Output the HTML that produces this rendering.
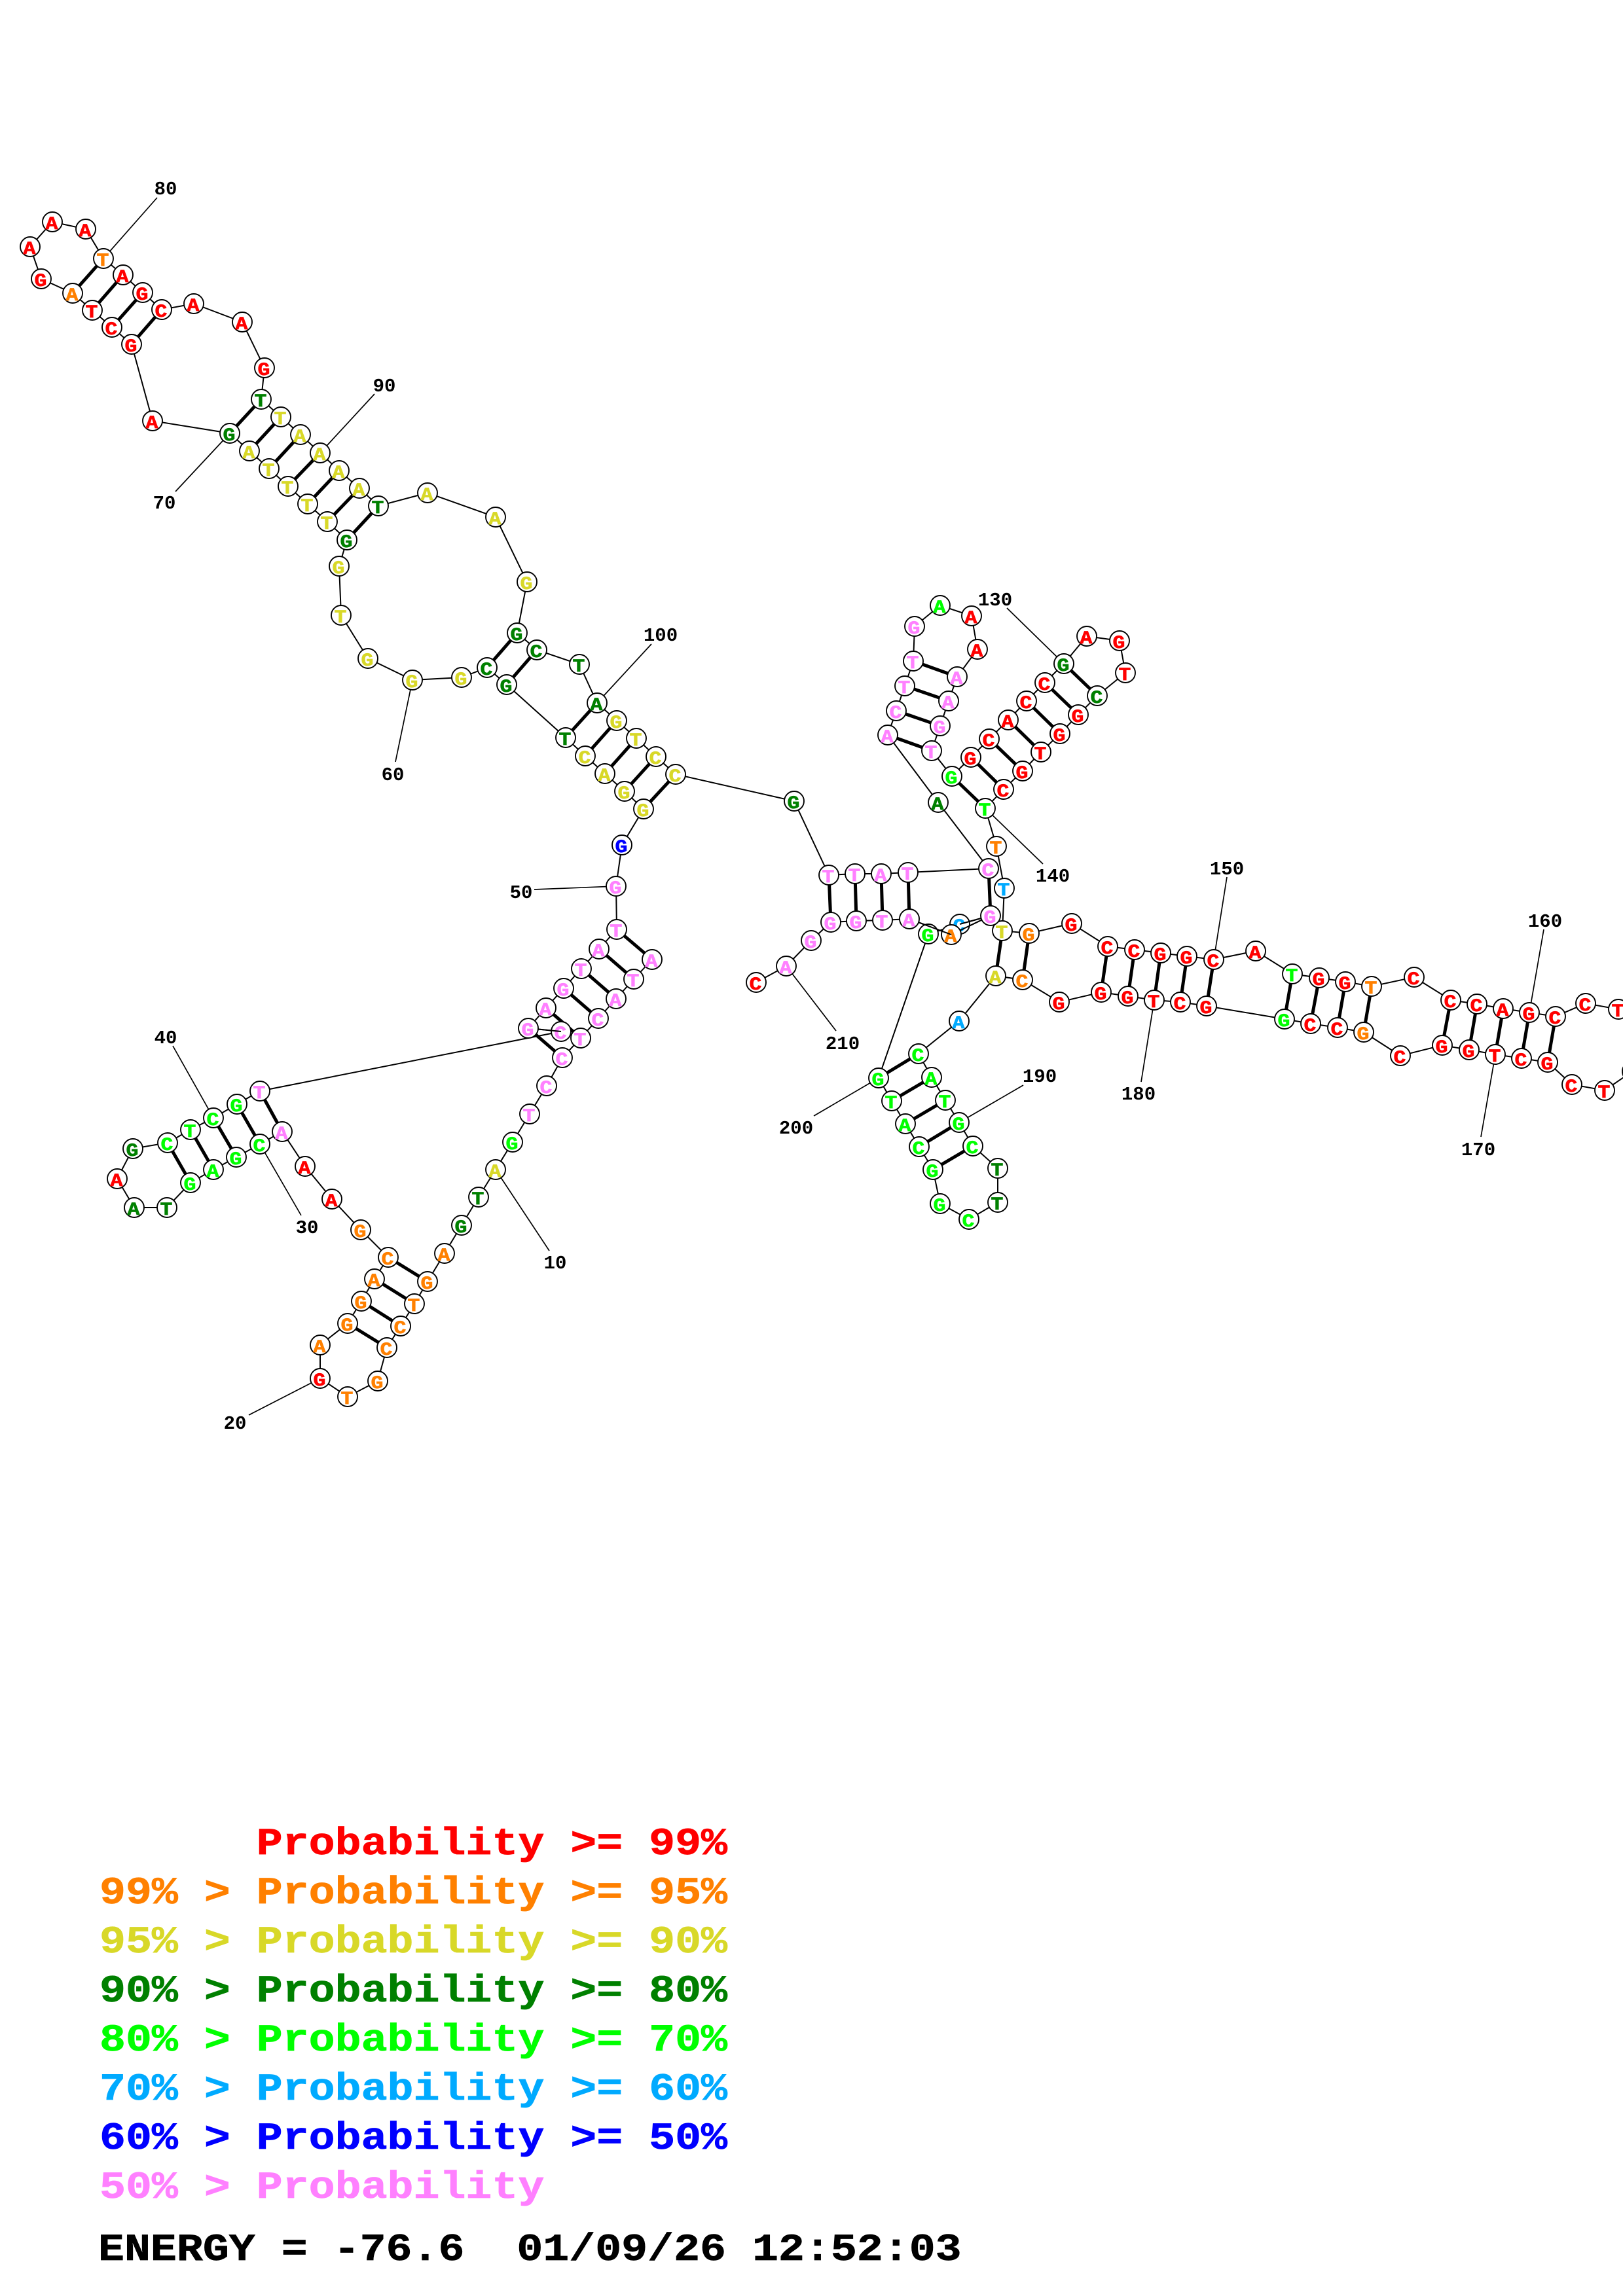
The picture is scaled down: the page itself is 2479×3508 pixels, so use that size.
<!DOCTYPE html>
<html><head><meta charset="utf-8"><style>
html,body{margin:0;padding:0;background:#fff}
svg{display:block}
circle{r:15px;fill:#fff;stroke:#000;stroke-width:1.9}
.bb{fill:none;stroke:#000;stroke-width:2}
.bd{fill:none;stroke:#000;stroke-width:5}
.ld{fill:none;stroke:#000;stroke-width:1.7}
text{font-family:"Liberation Mono",monospace;font-weight:bold;white-space:pre}
.n{font-size:29px;text-anchor:middle;fill:#000;font-weight:bold;transform:translateY(10px)}
.r{fill:#f00;stroke:#f00}.o{fill:#ff8000;stroke:#ff8000}.y{fill:#d8d828;stroke:#d8d828}.d{fill:#008000;stroke:#008000}.l{fill:#0f0;stroke:#0f0}.s{fill:#00aaff;stroke:#00aaff}.b{fill:#00f;stroke:#00f}.p{fill:#ff80ff;stroke:#ff80ff}
text.r:not(.L),text.o:not(.L),text.y:not(.L),text.d:not(.L),text.l:not(.L),text.s:not(.L),text.b:not(.L),text.p:not(.L){font-size:30px;text-anchor:middle;stroke-width:.7;transform-box:fill-box;transform-origin:center;transform:translate(-1px,11.5px) scale(1.05,.92)}
.L{font-size:66.6px}
text.L{stroke-width:.8}
</style></head><body>
<svg xmlns="http://www.w3.org/2000/svg" width="2479" height="3508" viewBox="0 0 2479 3508">
<rect width="2479" height="3508" fill="#fff"/>
<path class="bd" d="M351 662L399 610M381 689L429 637M411 716L459 664M440 743L489 692M470 770L518 719M500 797L549 746M530 825L578 773M111 448L158 395M141 474L188 420M171 500L218 447M201 526L247 473M744 1020L790 967M774 1046L820 993M864 1127L912 1074M894 1155L942 1101M924 1182L972 1128M954 1209L1002 1156M983 1236L1032 1183M1266 1337L1269 1409M1306 1335L1308 1407M1346 1335L1348 1406M1387 1333L1389 1404M1510 1327L1513 1399M1395 1010L1462 1034M1382 1048L1449 1071M1369 1086L1436 1109M1356 1123L1423 1147M1454 1186L1505 1235M1483 1157L1533 1206M1511 1129L1562 1178M1540 1100L1590 1149M1568 1071L1619 1121M1596 1043L1647 1092M1625 1014L1676 1063M1531 1422L1521 1491M1572 1426L1562 1497M1692 1446L1682 1516M1733 1451L1723 1522M1773 1456L1763 1528M1813 1461L1803 1531M1854 1466L1843 1537M1974 1488L1962 1557M2015 1494L2002 1564M2055 1500L2043 1570M2095 1507L2083 1577M2216 1528L2203 1597M2256 1534L2244 1604M2296 1541L2284 1611M2336 1547L2324 1617M2376 1553L2364 1623M1403 1610L1342 1647M1423 1646L1362 1682M1444 1681L1383 1717M1465 1715L1404 1752M1486 1751L1425 1787M942 1420L996 1466M915 1450L968 1496M888 1480L941 1526M861 1510L914 1556M834 1540L887 1586M807 1571L859 1616M397 1667L431 1729M362 1687L397 1748M326 1708L361 1768M291 1726L326 1787M256 1746L291 1807M653 1958L593 1921M633 1992L572 1954M612 2026L552 1988M591 2059L531 2022"/>
<path class="ld" d="M158 395L240 302M489 692L572 602M351 662L268 751M630 1039L604 1164M912 1074L995 984M941 1354L816 1359M1625 1014L1538 929M1505 1235L1593 1320M1854 1466L1874 1340M2336 1547L2358 1420M2284 1611L2262 1737M1763 1528L1743 1653M1465 1715L1563 1658M1342 1647L1243 1705M1201 1476L1277 1575M757 1787L839 1911M489 2106L380 2162M397 1748L460 1857M326 1708L264 1598"/>
<path class="bb" d="M996 1466L968 1496L941 1526L914 1556L887 1586L859 1616L835 1659L809 1702L783 1745L757 1787L731 1829L705 1872L679 1915L653 1958L633 1992L612 2026L591 2059L577 2110L531 2134L489 2106L489 2055L531 2022L552 1988L572 1954L593 1921L551 1879L507 1832L466 1782L431 1729L397 1748L361 1768L326 1787L291 1807L255 1845L205 1845L179 1801L203 1755L256 1746L291 1726L326 1708L362 1687L397 1667L857 1576L807 1571L834 1540L861 1510L888 1480L915 1450L942 1420L941 1354L950 1291L983 1236L954 1209L924 1182L894 1155L864 1127L774 1046L744 1020L705 1035L630 1039L562 1006L521 940L518 865L530 825L500 797L470 770L440 743L411 716L381 689L351 662L233 643L201 526L171 500L141 474L111 448L63 426L46 377L80 339L131 350L158 395L188 420L218 447L247 473L296 464L370 492L404 562L399 610L429 637L459 664L489 692L518 719L549 746L578 773L653 753L757 790L805 889L790 967L820 993L885 1015L912 1074L942 1101L972 1128L1002 1156L1032 1183L1213 1224L1266 1337L1306 1335L1346 1335L1387 1333L1510 1327L1433 1226L1356 1123L1369 1086L1382 1048L1395 1010L1397 957L1436 925L1484 941L1493 992L1462 1034L1449 1071L1436 1109L1423 1147L1454 1186L1483 1157L1511 1129L1540 1100L1568 1071L1596 1043L1625 1014L1660 972L1710 979L1719 1028L1676 1063L1647 1092L1619 1121L1590 1149L1562 1178L1533 1206L1505 1235L1522 1293L1534 1357L1531 1422L1572 1426L1637 1411L1692 1446L1733 1451L1773 1456L1813 1461L1854 1466L1918 1453L1974 1488L2015 1494L2055 1500L2095 1507L2160 1493L2216 1528L2256 1534L2296 1541L2336 1547L2376 1553L2422 1533L2472 1542L2510 1585L2493 1637L2451 1666L2401 1657L2364 1623L2324 1617L2284 1611L2244 1604L2203 1597L2139 1613L2083 1577L2043 1570L2002 1564L1962 1557L1843 1537L1803 1531L1763 1528L1723 1522L1682 1516L1618 1531L1562 1497L1521 1491L1465 1560L1403 1610L1423 1646L1444 1681L1465 1715L1486 1751L1524 1785L1524 1837L1480 1863L1436 1839L1425 1787L1404 1752L1383 1717L1362 1682L1342 1647L1418 1427L1466 1412L1513 1399L1453 1428L1389 1404L1348 1406L1308 1407L1269 1409L1239 1437L1201 1476L1155 1501"/>
<circle cx="996" cy="1466"/><text x="996" y="1466" class="p">A</text>
<circle cx="968" cy="1496"/><text x="968" y="1496" class="p">T</text>
<circle cx="941" cy="1526"/><text x="941" y="1526" class="p">A</text>
<circle cx="914" cy="1556"/><text x="914" y="1556" class="p">C</text>
<circle cx="887" cy="1586"/><text x="887" y="1586" class="p">T</text>
<circle cx="859" cy="1616"/><text x="859" y="1616" class="p">C</text>
<circle cx="835" cy="1659"/><text x="835" y="1659" class="p">C</text>
<circle cx="809" cy="1702"/><text x="809" y="1702" class="p">T</text>
<circle cx="783" cy="1745"/><text x="783" y="1745" class="l">G</text>
<circle cx="757" cy="1787"/><text x="757" y="1787" class="y">A</text>
<circle cx="731" cy="1829"/><text x="731" y="1829" class="d">T</text>
<circle cx="705" cy="1872"/><text x="705" y="1872" class="d">G</text>
<circle cx="679" cy="1915"/><text x="679" y="1915" class="o">A</text>
<circle cx="653" cy="1958"/><text x="653" y="1958" class="o">G</text>
<circle cx="633" cy="1992"/><text x="633" y="1992" class="o">T</text>
<circle cx="612" cy="2026"/><text x="612" y="2026" class="o">C</text>
<circle cx="591" cy="2059"/><text x="591" y="2059" class="o">C</text>
<circle cx="577" cy="2110"/><text x="577" y="2110" class="o">G</text>
<circle cx="531" cy="2134"/><text x="531" y="2134" class="o">T</text>
<circle cx="489" cy="2106"/><text x="489" y="2106" class="r">G</text>
<circle cx="489" cy="2055"/><text x="489" y="2055" class="o">A</text>
<circle cx="531" cy="2022"/><text x="531" y="2022" class="o">G</text>
<circle cx="552" cy="1988"/><text x="552" y="1988" class="o">G</text>
<circle cx="572" cy="1954"/><text x="572" y="1954" class="o">A</text>
<circle cx="593" cy="1921"/><text x="593" y="1921" class="o">C</text>
<circle cx="551" cy="1879"/><text x="551" y="1879" class="o">G</text>
<circle cx="507" cy="1832"/><text x="507" y="1832" class="r">A</text>
<circle cx="466" cy="1782"/><text x="466" y="1782" class="r">A</text>
<circle cx="431" cy="1729"/><text x="431" y="1729" class="p">A</text>
<circle cx="397" cy="1748"/><text x="397" y="1748" class="l">C</text>
<circle cx="361" cy="1768"/><text x="361" y="1768" class="l">G</text>
<circle cx="326" cy="1787"/><text x="326" y="1787" class="l">A</text>
<circle cx="291" cy="1807"/><text x="291" y="1807" class="l">G</text>
<circle cx="255" cy="1845"/><text x="255" y="1845" class="d">T</text>
<circle cx="205" cy="1845"/><text x="205" y="1845" class="d">A</text>
<circle cx="179" cy="1801"/><text x="179" y="1801" class="r">A</text>
<circle cx="203" cy="1755"/><text x="203" y="1755" class="d">G</text>
<circle cx="256" cy="1746"/><text x="256" y="1746" class="l">C</text>
<circle cx="291" cy="1726"/><text x="291" y="1726" class="l">T</text>
<circle cx="326" cy="1708"/><text x="326" y="1708" class="l">C</text>
<circle cx="362" cy="1687"/><text x="362" y="1687" class="l">G</text>
<circle cx="397" cy="1667"/><text x="397" y="1667" class="p">T</text>
<circle cx="857" cy="1576"/><text x="857" y="1576" class="p">C</text>
<path class="bb" d="M857 1576L807 1571"/>
<circle cx="807" cy="1571"/><text x="807" y="1571" class="p">G</text>
<circle cx="834" cy="1540"/><text x="834" y="1540" class="p">A</text>
<circle cx="861" cy="1510"/><text x="861" y="1510" class="p">G</text>
<circle cx="888" cy="1480"/><text x="888" y="1480" class="p">T</text>
<circle cx="915" cy="1450"/><text x="915" y="1450" class="p">A</text>
<circle cx="942" cy="1420"/><text x="942" y="1420" class="p">T</text>
<circle cx="941" cy="1354"/><text x="941" y="1354" class="p">G</text>
<circle cx="950" cy="1291"/><text x="950" y="1291" class="b">G</text>
<circle cx="983" cy="1236"/><text x="983" y="1236" class="y">G</text>
<circle cx="954" cy="1209"/><text x="954" y="1209" class="y">G</text>
<circle cx="924" cy="1182"/><text x="924" y="1182" class="y">A</text>
<circle cx="894" cy="1155"/><text x="894" y="1155" class="y">C</text>
<circle cx="864" cy="1127"/><text x="864" y="1127" class="d">T</text>
<circle cx="774" cy="1046"/><text x="774" y="1046" class="d">G</text>
<circle cx="744" cy="1020"/><text x="744" y="1020" class="d">C</text>
<circle cx="705" cy="1035"/><text x="705" y="1035" class="y">G</text>
<circle cx="630" cy="1039"/><text x="630" y="1039" class="y">G</text>
<circle cx="562" cy="1006"/><text x="562" y="1006" class="y">G</text>
<circle cx="521" cy="940"/><text x="521" y="940" class="y">T</text>
<circle cx="518" cy="865"/><text x="518" y="865" class="y">G</text>
<circle cx="530" cy="825"/><text x="530" y="825" class="d">G</text>
<circle cx="500" cy="797"/><text x="500" y="797" class="y">T</text>
<circle cx="470" cy="770"/><text x="470" y="770" class="y">T</text>
<circle cx="440" cy="743"/><text x="440" y="743" class="y">T</text>
<circle cx="411" cy="716"/><text x="411" y="716" class="y">T</text>
<circle cx="381" cy="689"/><text x="381" y="689" class="y">A</text>
<circle cx="351" cy="662"/><text x="351" y="662" class="d">G</text>
<circle cx="233" cy="643"/><text x="233" y="643" class="r">A</text>
<circle cx="201" cy="526"/><text x="201" y="526" class="r">G</text>
<circle cx="171" cy="500"/><text x="171" y="500" class="r">C</text>
<circle cx="141" cy="474"/><text x="141" y="474" class="r">T</text>
<circle cx="111" cy="448"/><text x="111" y="448" class="o">A</text>
<circle cx="63" cy="426"/><text x="63" y="426" class="r">G</text>
<circle cx="46" cy="377"/><text x="46" y="377" class="r">A</text>
<circle cx="80" cy="339"/><text x="80" y="339" class="r">A</text>
<circle cx="131" cy="350"/><text x="131" y="350" class="r">A</text>
<circle cx="158" cy="395"/><text x="158" y="395" class="o">T</text>
<circle cx="188" cy="420"/><text x="188" y="420" class="r">A</text>
<circle cx="218" cy="447"/><text x="218" y="447" class="r">G</text>
<circle cx="247" cy="473"/><text x="247" y="473" class="r">C</text>
<circle cx="296" cy="464"/><text x="296" y="464" class="r">A</text>
<circle cx="370" cy="492"/><text x="370" y="492" class="r">A</text>
<circle cx="404" cy="562"/><text x="404" y="562" class="r">G</text>
<circle cx="399" cy="610"/><text x="399" y="610" class="d">T</text>
<circle cx="429" cy="637"/><text x="429" y="637" class="y">T</text>
<circle cx="459" cy="664"/><text x="459" y="664" class="y">A</text>
<circle cx="489" cy="692"/><text x="489" y="692" class="y">A</text>
<circle cx="518" cy="719"/><text x="518" y="719" class="y">A</text>
<circle cx="549" cy="746"/><text x="549" y="746" class="y">A</text>
<circle cx="578" cy="773"/><text x="578" y="773" class="d">T</text>
<circle cx="653" cy="753"/><text x="653" y="753" class="y">A</text>
<circle cx="757" cy="790"/><text x="757" y="790" class="y">A</text>
<circle cx="805" cy="889"/><text x="805" y="889" class="y">G</text>
<circle cx="790" cy="967"/><text x="790" y="967" class="d">G</text>
<circle cx="820" cy="993"/><text x="820" y="993" class="d">C</text>
<circle cx="885" cy="1015"/><text x="885" y="1015" class="d">T</text>
<circle cx="912" cy="1074"/><text x="912" y="1074" class="d">A</text>
<circle cx="942" cy="1101"/><text x="942" y="1101" class="y">G</text>
<circle cx="972" cy="1128"/><text x="972" y="1128" class="y">T</text>
<circle cx="1002" cy="1156"/><text x="1002" y="1156" class="y">C</text>
<circle cx="1032" cy="1183"/><text x="1032" y="1183" class="y">C</text>
<circle cx="1213" cy="1224"/><text x="1213" y="1224" class="d">G</text>
<circle cx="1266" cy="1337"/><text x="1266" y="1337" class="p">T</text>
<circle cx="1306" cy="1335"/><text x="1306" y="1335" class="p">T</text>
<circle cx="1346" cy="1335"/><text x="1346" y="1335" class="p">A</text>
<circle cx="1387" cy="1333"/><text x="1387" y="1333" class="p">T</text>
<circle cx="1510" cy="1327"/><text x="1510" y="1327" class="p">C</text>
<circle cx="1433" cy="1226"/><text x="1433" y="1226" class="d">A</text>
<circle cx="1356" cy="1123"/><text x="1356" y="1123" class="p">A</text>
<circle cx="1369" cy="1086"/><text x="1369" y="1086" class="p">C</text>
<circle cx="1382" cy="1048"/><text x="1382" y="1048" class="p">T</text>
<circle cx="1395" cy="1010"/><text x="1395" y="1010" class="p">T</text>
<circle cx="1397" cy="957"/><text x="1397" y="957" class="p">G</text>
<circle cx="1436" cy="925"/><text x="1436" y="925" class="l">A</text>
<circle cx="1484" cy="941"/><text x="1484" y="941" class="r">A</text>
<circle cx="1493" cy="992"/><text x="1493" y="992" class="r">A</text>
<circle cx="1462" cy="1034"/><text x="1462" y="1034" class="p">A</text>
<circle cx="1449" cy="1071"/><text x="1449" y="1071" class="p">A</text>
<circle cx="1436" cy="1109"/><text x="1436" y="1109" class="p">G</text>
<circle cx="1423" cy="1147"/><text x="1423" y="1147" class="p">T</text>
<circle cx="1454" cy="1186"/><text x="1454" y="1186" class="l">G</text>
<circle cx="1483" cy="1157"/><text x="1483" y="1157" class="r">G</text>
<circle cx="1511" cy="1129"/><text x="1511" y="1129" class="r">C</text>
<circle cx="1540" cy="1100"/><text x="1540" y="1100" class="r">A</text>
<circle cx="1568" cy="1071"/><text x="1568" y="1071" class="r">C</text>
<circle cx="1596" cy="1043"/><text x="1596" y="1043" class="r">C</text>
<circle cx="1625" cy="1014"/><text x="1625" y="1014" class="d">G</text>
<circle cx="1660" cy="972"/><text x="1660" y="972" class="r">A</text>
<circle cx="1710" cy="979"/><text x="1710" y="979" class="r">G</text>
<circle cx="1719" cy="1028"/><text x="1719" y="1028" class="r">T</text>
<circle cx="1676" cy="1063"/><text x="1676" y="1063" class="d">C</text>
<circle cx="1647" cy="1092"/><text x="1647" y="1092" class="r">G</text>
<circle cx="1619" cy="1121"/><text x="1619" y="1121" class="r">G</text>
<circle cx="1590" cy="1149"/><text x="1590" y="1149" class="r">T</text>
<circle cx="1562" cy="1178"/><text x="1562" y="1178" class="r">G</text>
<circle cx="1533" cy="1206"/><text x="1533" y="1206" class="r">C</text>
<circle cx="1505" cy="1235"/><text x="1505" y="1235" class="l">T</text>
<circle cx="1522" cy="1293"/><text x="1522" y="1293" class="o">T</text>
<circle cx="1534" cy="1357"/><text x="1534" y="1357" class="s">T</text>
<circle cx="1531" cy="1422"/><text x="1531" y="1422" class="y">T</text>
<circle cx="1572" cy="1426"/><text x="1572" y="1426" class="o">G</text>
<circle cx="1637" cy="1411"/><text x="1637" y="1411" class="r">G</text>
<circle cx="1692" cy="1446"/><text x="1692" y="1446" class="r">C</text>
<circle cx="1733" cy="1451"/><text x="1733" y="1451" class="r">C</text>
<circle cx="1773" cy="1456"/><text x="1773" y="1456" class="r">G</text>
<circle cx="1813" cy="1461"/><text x="1813" y="1461" class="r">G</text>
<circle cx="1854" cy="1466"/><text x="1854" y="1466" class="r">C</text>
<circle cx="1918" cy="1453"/><text x="1918" y="1453" class="r">A</text>
<circle cx="1974" cy="1488"/><text x="1974" y="1488" class="l">T</text>
<circle cx="2015" cy="1494"/><text x="2015" y="1494" class="r">G</text>
<circle cx="2055" cy="1500"/><text x="2055" y="1500" class="r">G</text>
<circle cx="2095" cy="1507"/><text x="2095" y="1507" class="o">T</text>
<circle cx="2160" cy="1493"/><text x="2160" y="1493" class="r">C</text>
<circle cx="2216" cy="1528"/><text x="2216" y="1528" class="r">C</text>
<circle cx="2256" cy="1534"/><text x="2256" y="1534" class="r">C</text>
<circle cx="2296" cy="1541"/><text x="2296" y="1541" class="r">A</text>
<circle cx="2336" cy="1547"/><text x="2336" y="1547" class="r">G</text>
<circle cx="2376" cy="1553"/><text x="2376" y="1553" class="r">C</text>
<circle cx="2422" cy="1533"/><text x="2422" y="1533" class="r">C</text>
<circle cx="2472" cy="1542"/><text x="2472" y="1542" class="r">T</text>
<circle cx="2510" cy="1585"/>
<circle cx="2493" cy="1637"/>
<circle cx="2451" cy="1666"/><text x="2451" y="1666" class="r">T</text>
<circle cx="2401" cy="1657"/><text x="2401" y="1657" class="r">C</text>
<circle cx="2364" cy="1623"/><text x="2364" y="1623" class="r">G</text>
<circle cx="2324" cy="1617"/><text x="2324" y="1617" class="r">C</text>
<circle cx="2284" cy="1611"/><text x="2284" y="1611" class="r">T</text>
<circle cx="2244" cy="1604"/><text x="2244" y="1604" class="r">G</text>
<circle cx="2203" cy="1597"/><text x="2203" y="1597" class="r">G</text>
<circle cx="2139" cy="1613"/><text x="2139" y="1613" class="r">C</text>
<circle cx="2083" cy="1577"/><text x="2083" y="1577" class="o">G</text>
<circle cx="2043" cy="1570"/><text x="2043" y="1570" class="r">C</text>
<circle cx="2002" cy="1564"/><text x="2002" y="1564" class="r">C</text>
<circle cx="1962" cy="1557"/><text x="1962" y="1557" class="l">G</text>
<circle cx="1843" cy="1537"/><text x="1843" y="1537" class="r">G</text>
<circle cx="1803" cy="1531"/><text x="1803" y="1531" class="r">C</text>
<circle cx="1763" cy="1528"/><text x="1763" y="1528" class="r">T</text>
<circle cx="1723" cy="1522"/><text x="1723" y="1522" class="r">G</text>
<circle cx="1682" cy="1516"/><text x="1682" y="1516" class="r">G</text>
<circle cx="1618" cy="1531"/><text x="1618" y="1531" class="r">G</text>
<circle cx="1562" cy="1497"/><text x="1562" y="1497" class="o">C</text>
<circle cx="1521" cy="1491"/><text x="1521" y="1491" class="y">A</text>
<circle cx="1465" cy="1560"/><text x="1465" y="1560" class="s">A</text>
<circle cx="1403" cy="1610"/><text x="1403" y="1610" class="l">C</text>
<circle cx="1423" cy="1646"/><text x="1423" y="1646" class="l">A</text>
<circle cx="1444" cy="1681"/><text x="1444" y="1681" class="l">T</text>
<circle cx="1465" cy="1715"/><text x="1465" y="1715" class="l">G</text>
<circle cx="1486" cy="1751"/><text x="1486" y="1751" class="l">C</text>
<circle cx="1524" cy="1785"/><text x="1524" y="1785" class="d">T</text>
<circle cx="1524" cy="1837"/><text x="1524" y="1837" class="d">T</text>
<circle cx="1480" cy="1863"/><text x="1480" y="1863" class="l">C</text>
<circle cx="1436" cy="1839"/><text x="1436" y="1839" class="l">G</text>
<circle cx="1425" cy="1787"/><text x="1425" y="1787" class="l">G</text>
<circle cx="1404" cy="1752"/><text x="1404" y="1752" class="l">C</text>
<circle cx="1383" cy="1717"/><text x="1383" y="1717" class="l">A</text>
<circle cx="1362" cy="1682"/><text x="1362" y="1682" class="l">T</text>
<circle cx="1342" cy="1647"/><text x="1342" y="1647" class="l">G</text>
<circle cx="1418" cy="1427"/><text x="1418" y="1427" class="l">G</text>
<circle cx="1466" cy="1412"/><text x="1466" y="1412" class="s">C</text>
<path class="bb" d="M1466 1412L1513 1399L1453 1428"/>
<circle cx="1513" cy="1399"/><text x="1513" y="1399" class="p">G</text>
<circle cx="1453" cy="1428"/><text x="1453" y="1428" class="o">A</text>
<path class="bb" d="M1453 1428L1389 1404"/>
<circle cx="1389" cy="1404"/><text x="1389" y="1404" class="p">A</text>
<circle cx="1348" cy="1406"/><text x="1348" y="1406" class="p">T</text>
<circle cx="1308" cy="1407"/><text x="1308" y="1407" class="p">G</text>
<circle cx="1269" cy="1409"/><text x="1269" y="1409" class="p">G</text>
<circle cx="1239" cy="1437"/><text x="1239" y="1437" class="p">G</text>
<circle cx="1201" cy="1476"/><text x="1201" y="1476" class="p">A</text>
<circle cx="1155" cy="1501"/><text x="1155" y="1501" class="r">C</text>
<text class="n" x="253" y="287">80</text>
<text class="n" x="587" y="588">90</text>
<text class="n" x="251" y="767">70</text>
<text class="n" x="1009" y="969">100</text>
<text class="n" x="600" y="1182">60</text>
<text class="n" x="796" y="1362">50</text>
<text class="n" x="1520" y="915">130</text>
<text class="n" x="1608" y="1337">140</text>
<text class="n" x="1874" y="1326">150</text>
<text class="n" x="2360" y="1406">160</text>
<text class="n" x="2258" y="1755">170</text>
<text class="n" x="1739" y="1670">180</text>
<text class="n" x="1588" y="1643">190</text>
<text class="n" x="1216" y="1722">200</text>
<text class="n" x="1287" y="1593">210</text>
<text class="n" x="848" y="1928">10</text>
<text class="n" x="359" y="2173">20</text>
<text class="n" x="469" y="1874">30</text>
<text class="n" x="253" y="1584">40</text>
<text class="L r" transform="matrix(1 0 0 .88 152 2833)">      Probability &gt;= 99%</text>
<text class="L o" transform="matrix(1 0 0 .88 152 2908)">99% &gt; Probability &gt;= 95%</text>
<text class="L y" transform="matrix(1 0 0 .88 152 2983)">95% &gt; Probability &gt;= 90%</text>
<text class="L d" transform="matrix(1 0 0 .88 152 3058)">90% &gt; Probability &gt;= 80%</text>
<text class="L l" transform="matrix(1 0 0 .88 152 3133)">80% &gt; Probability &gt;= 70%</text>
<text class="L s" transform="matrix(1 0 0 .88 152 3208)">70% &gt; Probability &gt;= 60%</text>
<text class="L b" transform="matrix(1 0 0 .88 152 3283)">60% &gt; Probability &gt;= 50%</text>
<text class="L p" transform="matrix(1 0 0 .88 152 3358)">50% &gt; Probability</text>
<text class="L" fill="#000" stroke="#000" transform="matrix(1 0 0 .88 150 3453)">ENERGY = -76.6  01/09/26 12:52:03</text>
</svg>
</body></html>
